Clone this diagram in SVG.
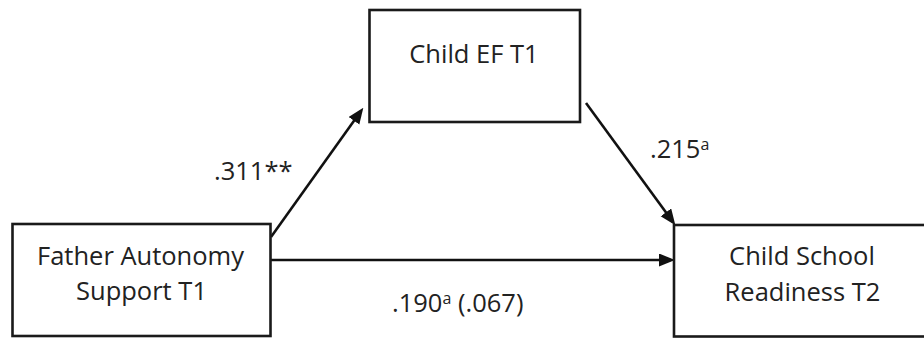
<svg xmlns="http://www.w3.org/2000/svg" width="924" height="339" viewBox="0 0 924 339">
  <style>
    .box { fill: #ffffff; stroke: #1a1a1a; stroke-width: 2.6; }
    .lbl { font-family: "Open Sans", "Noto Sans", sans-serif; font-size: 25.5px; fill: #222222; }
    .mid { text-anchor: middle; }
    .sup { font-size: 16px; }
    .edge { stroke: #111111; stroke-width: 2.6; fill: none; marker-end: url(#head); }
  </style>
  <defs>
    <marker id="head" markerUnits="userSpaceOnUse" markerWidth="16" markerHeight="14" refX="12" refY="6.5" orient="auto">
      <path d="M0,0 L16,6.5 L0,13 z" fill="#111111"/>
    </marker>
  </defs>
  <rect width="924" height="339" fill="#ffffff"/>

  <g id="edges">
    <line class="edge" x1="271" y1="237" x2="361" y2="111"/>
    <line class="edge" x1="586" y1="103" x2="673" y2="222"/>
    <line class="edge" x1="271" y1="260" x2="671" y2="260"/>
  </g>

  <g id="child-ef-t1">
    <rect class="box" x="369.5" y="10" width="210.5" height="112"/>
    <text class="lbl mid" x="474" y="63">Child EF T1</text>
  </g>

  <g id="father-autonomy-support-t1">
    <rect class="box" x="12.5" y="224" width="258" height="112"/>
    <text class="lbl mid" x="140.5" y="265">Father Autonomy</text>
    <text class="lbl mid" x="141.5" y="300">Support T1</text>
  </g>

  <g id="child-school-readiness-t2">
    <rect class="box" x="674" y="225" width="260" height="111.5"/>
    <text class="lbl mid" x="802" y="265">Child School</text>
    <text class="lbl mid" x="802.5" y="301">Readiness T2</text>
  </g>

  <g id="path-labels">
    <text class="lbl" x="214" y="180">.311**</text>
    <text class="lbl" x="650" y="158">.215<tspan class="sup" dy="-8">a</tspan></text>
    <text class="lbl" x="392" y="312">.190<tspan class="sup" dy="-8">a</tspan><tspan dy="8"> (.067)</tspan></text>
  </g>
</svg>
